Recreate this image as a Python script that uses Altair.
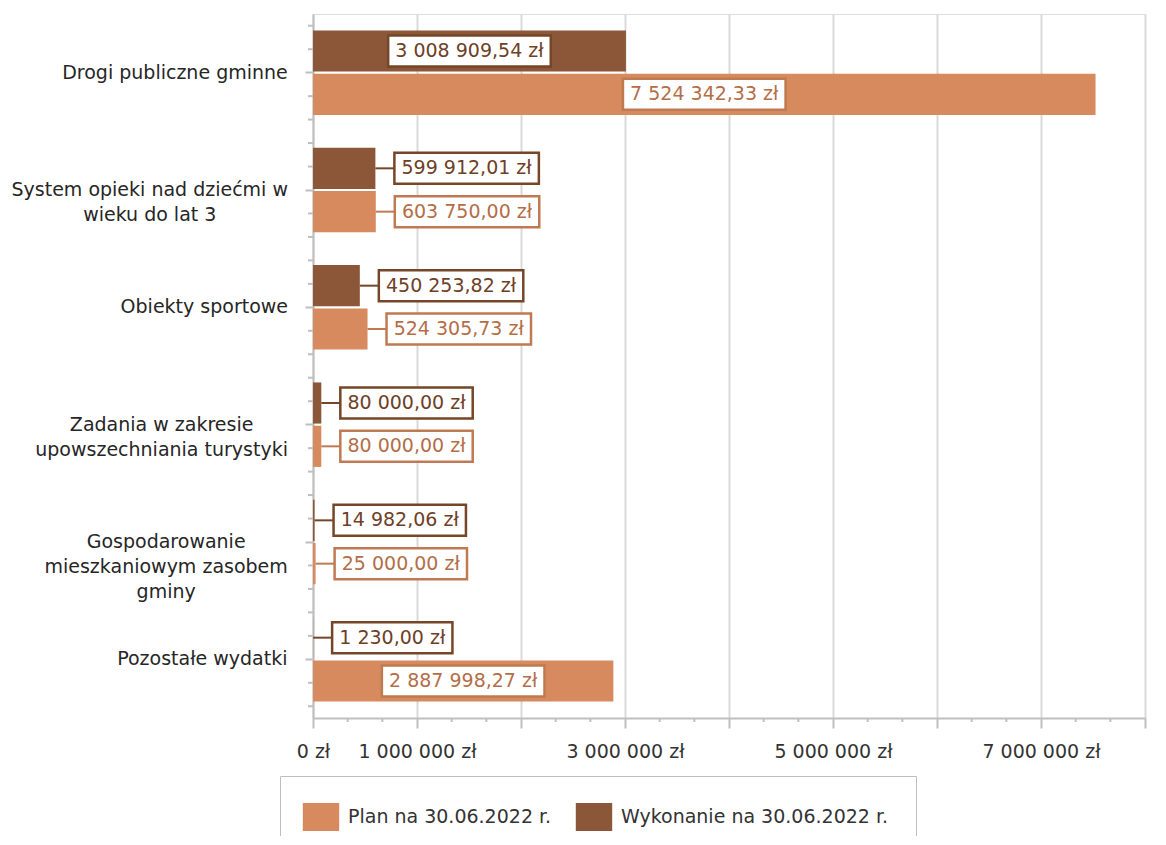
import altair as alt
import pandas as pd

# ---------------- data ----------------
categories = [
    "Drogi publiczne gminne",
    "System opieki nad dziećmi w\nwieku do lat 3",
    "Obiekty sportowe",
    "Zadania w zakresie\nupowszechniania turystyki",
    "Gospodarowanie\nmieszkaniowym zasobem\ngminy",
    "Pozostałe wydatki",
]
plan = [7524342.33, 603750.00, 524305.73, 80000.00, 25000.00, 2887998.27]
wykonanie = [3008909.54, 599912.01, 450253.82, 80000.00, 14982.06, 1230.00]
series = ["Plan na 30.06.2022 r.", "Wykonanie na 30.06.2022 r."]

x_ticks = [0, 1000000, 2000000, 3000000, 4000000, 5000000, 6000000, 7000000, 8000000]
x_tick_labels = ["0 zł", "1 000 000 zł", "", "3 000 000 zł", "", "5 000 000 zł", "", "7 000 000 zł", ""]

# ---------------- style ----------------
FONT = "DejaVu Sans"
FS = 19
W, H = 832, 704
XMAX = 8000000
K = XMAX / W  # data units per pixel
STEP = H / len(categories)

fill_colors = ["#D68A5E", "#8B5738"]
border_colors = ["#C07A52", "#764628"]
text_colors = ["#B46E47", "#6E4026"]
axis_gray = "#BFBFBF"
grid_gray = "#D9D9D9"

# approximate DejaVu Sans advance widths (em)
CW = {
    "a": .613, "b": .635, "c": .550, "d": .635, "e": .615, "g": .635, "h": .634,
    "i": .278, "k": .579, "l": .278, "m": .974, "n": .634, "o": .612, "p": .635,
    "r": .411, "s": .521, "t": .392, "u": .634, "w": .818, "y": .592, "z": .525,
    "ć": .550, "ł": .300, "D": .770, "G": .779, "O": .787, "P": .603, "S": .635,
    "Z": .686, " ": .318, ",": .318, ".": .318,
}


def text_w(s, fs=FS):
    return sum(CW.get(ch, .636) for ch in s) * fs


def fmt_pln(v):
    s = f"{v:,.2f}".replace(",", " ").replace(".", ",")
    return s + " zł"


rows = []
for cat, p, w in zip(categories, plan, wykonanie):
    for s, v in ((series[0], p), (series[1], w)):
        lab = fmt_pln(v)
        bw = text_w(lab) + 14
        inside = v >= 1000000
        if inside:
            x0 = v / 2 - bw / 2 * K
        else:
            x0 = v + 19 * K
        x1 = x0 + bw * K
        rows.append(dict(cat=cat, series=s, value=v, label=lab, bx0=x0, bx1=x1,
                         tx=(x0 + x1) / 2, inside=inside))
df = pd.DataFrame(rows)

label_expr = " : ".join(
    f"datum.value == {v} ? '{t}'" for v, t in zip(x_ticks, x_tick_labels)
) + " : ''"

y_enc = alt.Y("cat:N", sort=categories,
              scale=alt.Scale(paddingInner=0.28, paddingOuter=0.14),
              axis=alt.Axis(labels=False, title=None, grid=False, domainColor=axis_gray,
                            domainWidth=2, tickColor=axis_gray, tickWidth=2, tickSize=8))
yoff_enc = alt.YOffset("series:N", sort=[series[1], series[0]],
                       scale=alt.Scale(paddingInner=0.05))

base = alt.Chart(df)

bars = base.mark_bar().encode(
    x=alt.X("value:Q", scale=alt.Scale(domain=[0, XMAX], nice=False),
            axis=alt.Axis(values=x_ticks, labelExpr=label_expr, title=None, grid=True,
                          gridColor=grid_gray, gridWidth=2, domainColor=axis_gray,
                          domainWidth=2, tickColor=axis_gray, tickWidth=2, tickSize=10,
                          labelPadding=14, labelFont=FONT, labelFontSize=FS,
                          labelColor="#333333", labelOverlap=False, labelFlush=False)),
    y=y_enc,
    yOffset=yoff_enc,
    color=alt.Color("series:N", scale=alt.Scale(domain=series, range=fill_colors),
                    legend=alt.Legend(title=None, orient="none", legendX=-33, legendY=762,
                                      direction="horizontal",
                                      symbolType="M-1.3,-1H1.3V1H-1.3Z", symbolSize=784,
                                      symbolStrokeWidth=0, labelLimit=0,
                                      labelFont=FONT, labelFontSize=FS, labelColor="#333333",
                                      labelOffset=13, columnPadding=23, padding=27,
                                      strokeColor=axis_gray, fillColor="white")),
)

leaders = base.transform_filter("!datum.inside").mark_rule(strokeWidth=2).encode(
    x="value:Q", x2="bx0:Q", y=y_enc, yOffset=yoff_enc,
    stroke=alt.Stroke("series:N", scale=alt.Scale(domain=series, range=border_colors),
                      legend=None),
)

boxes = base.mark_bar(height=31, fill="white", strokeWidth=2.5).encode(
    x="bx0:Q", x2="bx1:Q", y=y_enc, yOffset=yoff_enc,
    stroke=alt.Stroke("series:N", scale=alt.Scale(domain=series, range=border_colors),
                      legend=None),
)

texts = base.mark_text(font=FONT, fontSize=FS, align="center", baseline="middle").encode(
    x="tx:Q", y=y_enc, yOffset=yoff_enc, text="label:N",
    fill=alt.Fill("series:N", scale=alt.Scale(domain=series, range=text_colors),
                  legend=None),
)

# minor ticks on the x axis
minor = [v * 1000000 / 3 for v in range(0, 25) if v % 3 != 0]
minor_df = pd.DataFrame({"m": minor})
minor_ticks = alt.Chart(minor_df).mark_rule(color=axis_gray, strokeWidth=2).encode(
    x="m:Q", y=alt.value(H), y2=alt.value(H + 4))

# minor ticks on the y axis (five per category step)
cat_df = pd.DataFrame({"cat": categories})
y_minor = []
for j in (-2, -1, 1, 2):
    y_minor.append(
        alt.Chart(cat_df).mark_rule(color=axis_gray, strokeWidth=2, yOffset=j * STEP / 5)
        .encode(x=alt.value(-5), x2=alt.value(0), y=y_enc)
    )

# category labels (centered multi-line blocks, right edge at a common line)
cat_layers = []
for cat in categories:
    maxw = max(text_w(line) for line in cat.split("\n"))
    cx = -25 - maxw / 2
    cat_layers.append(
        alt.Chart(pd.DataFrame({"cat": [cat]})).mark_text(
            font=FONT, fontSize=FS, align="center", baseline="middle", lineHeight=25,
            lineBreak="\n", color="#262626").encode(
            x=alt.value(cx), y=y_enc, text="cat:N")
    )

chart = alt.layer(bars, minor_ticks, *y_minor, leaders, boxes, texts, *cat_layers).properties(
    width=W, height=H,
    autosize=alt.AutoSizeParams(type="none"),
    padding={"left": 305, "top": 6, "right": 10, "bottom": 118},
).configure_view(stroke=None).configure(font=FONT)

chart.save("out.html", embed_options={"renderer": "svg", "actions": False})
